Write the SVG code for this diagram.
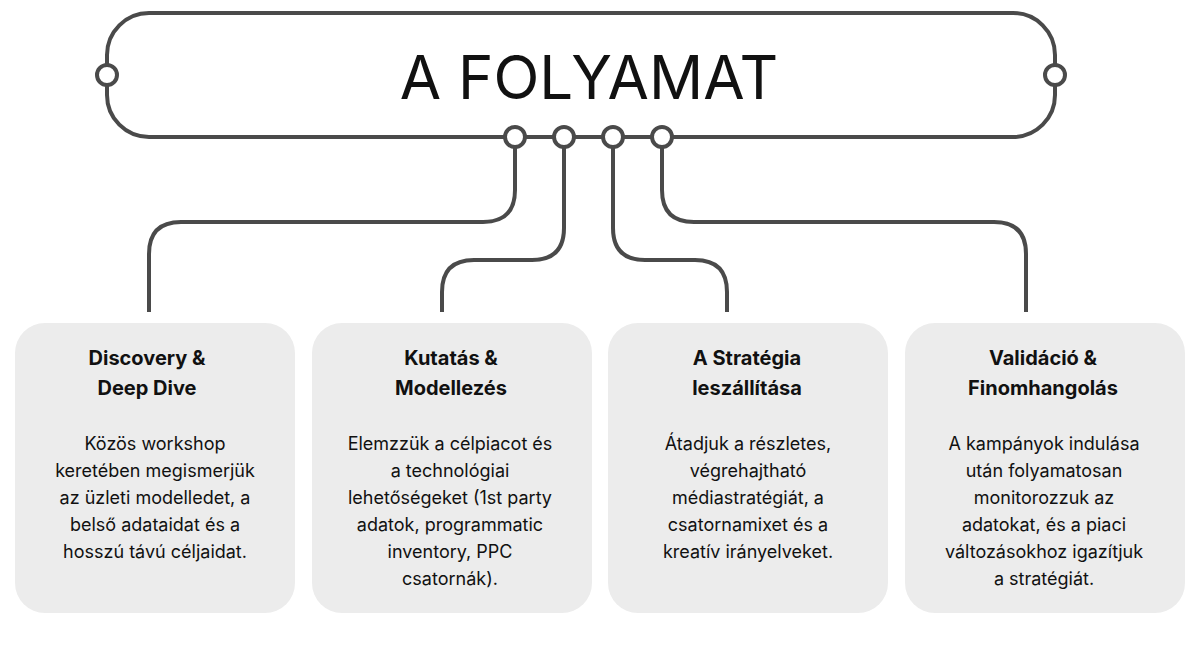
<svg xmlns="http://www.w3.org/2000/svg" width="1200" height="650" viewBox="0 0 1200 650">
<style>
.ln{fill:none;stroke:#4a4a4a;stroke-width:4}
.dot{fill:#fff;stroke:#4a4a4a;stroke-width:4}
.card{fill:#ececec}
.t{font-family:Inter,"Liberation Sans",sans-serif;font-size:20px;font-weight:700;fill:#111;text-anchor:middle}
.b{font-family:Inter,"Liberation Sans",sans-serif;font-size:18px;fill:#111;text-anchor:middle}
</style>
<rect width="1200" height="650" fill="#fff"/>
<g id="connectors">
<path class="ln" d="M515,137 V190 Q515,222 483,222 H181 Q149,222 149,254 V312"/>
<path class="ln" d="M564,137 V228 Q564,260 532,260 H474 Q442,260 442,292 V312"/>
<path class="ln" d="M613,137 V228 Q613,260 645,260 H695 Q727,260 727,292 V312"/>
<path class="ln" d="M662,137 V190 Q662,222 694,222 H994 Q1026,222 1026,254 V312"/>
</g>
<g id="header">
<rect class="ln" x="107" y="13" width="948" height="124" rx="42" fill="#fff"/>
<text x="589" y="99" font-family="Inter,'Liberation Sans',sans-serif" font-size="60" fill="#111" text-anchor="middle">A FOLYAMAT</text>
<circle class="dot" cx="107" cy="75" r="10"/>
<circle class="dot" cx="1055" cy="75" r="10"/>
<circle class="dot" cx="515" cy="137" r="10"/>
<circle class="dot" cx="564" cy="137" r="10"/>
<circle class="dot" cx="613" cy="137" r="10"/>
<circle class="dot" cx="662" cy="137" r="10"/>
</g>
<g id="card1">
<rect class="card" x="15" y="323" width="280" height="290" rx="30"/>
<text class="t" x="147" y="365">Discovery &amp;</text><text class="t" x="147" y="395">Deep Dive</text>
<text class="b" x="155" y="450">Közös workshop</text><text class="b" x="155" y="477">keretében megismerjük</text><text class="b" x="155" y="504">az üzleti modelledet, a</text><text class="b" x="155" y="531">belső adataidat és a</text><text class="b" x="155" y="558">hosszú távú céljaidat.</text>
</g>
<g id="card2">
<rect class="card" x="312" y="323" width="280" height="290" rx="30"/>
<text class="t" x="451" y="365">Kutatás &amp;</text><text class="t" x="451" y="395">Modellezés</text>
<text class="b" x="450" y="450">Elemzzük a célpiacot és</text><text class="b" x="450" y="477">a technológiai</text><text class="b" x="450" y="504">lehetőségeket (1st party</text><text class="b" x="450" y="531">adatok, programmatic</text><text class="b" x="450" y="558">inventory, PPC</text><text class="b" x="450" y="585">csatornák).</text>
</g>
<g id="card3">
<rect class="card" x="608" y="323" width="280" height="290" rx="30"/>
<text class="t" x="747" y="365">A Stratégia</text><text class="t" x="747" y="395">leszállítása</text>
<text class="b" x="748" y="450">Átadjuk a részletes,</text><text class="b" x="748" y="477">végrehajtható</text><text class="b" x="748" y="504">médiastratégiát, a</text><text class="b" x="748" y="531">csatornamixet és a</text><text class="b" x="748" y="558">kreatív irányelveket.</text>
</g>
<g id="card4">
<rect class="card" x="905" y="323" width="280" height="290" rx="30"/>
<text class="t" x="1043" y="365">Validáció &amp;</text><text class="t" x="1043" y="395">Finomhangolás</text>
<text class="b" x="1044" y="450">A kampányok indulása</text><text class="b" x="1044" y="477">után folyamatosan</text><text class="b" x="1044" y="504">monitorozzuk az</text><text class="b" x="1044" y="531">adatokat, és a piaci</text><text class="b" x="1044" y="558">változásokhoz igazítjuk</text><text class="b" x="1044" y="585">a stratégiát.</text>
</g>
</svg>
